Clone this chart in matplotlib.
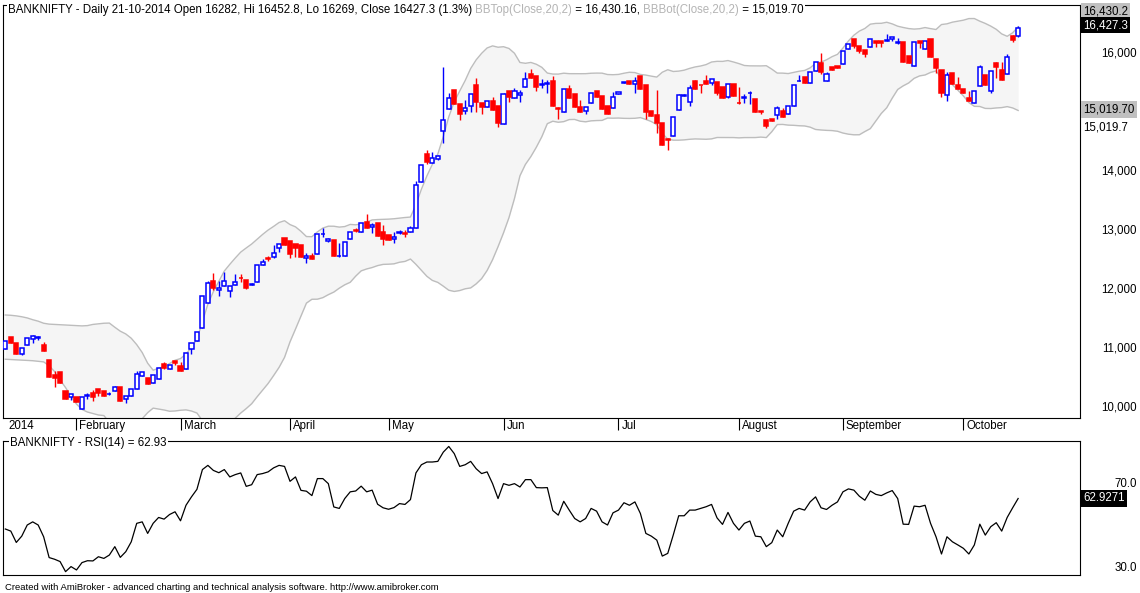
import numpy as np
import pandas as pd
import matplotlib
matplotlib.use("Agg")
import matplotlib.pyplot as plt
import matplotlib.transforms as mtrans

plt.rcParams['font.family'] = ['Liberation Sans', 'DejaVu Sans']

# daily BANKNIFTY bars, mid Jan 2014 .. 21 Oct 2014
opens = [10985, 11190, 11080, 10895, 11045, 11150, 11170, 11050, 10800, 10540,
         10600, 10275, 10175, 10175, 9960, 10195, 10230, 10300, 10270, 10215,
         10275, 10335, 10140, 10185, 10300, 10525, 10495, 10410, 10475, 10730,
         10640, 10780, 10695, 10640, 10980, 11125, 11345, 11770, 12135, 11990,
         12055, 11970, 12070, 12190, 12155, 12075, 12125, 12405, 12525, 12550,
         12690, 12860, 12820, 12760, 12745, 12520, 12560, 12590, 12925, 12820,
         12830, 12555, 12560, 12850, 12995, 12960, 13140, 13045, 13125, 12960,
         12915, 12840, 12955, 12950, 12970, 13030, 13810, 14290, 14130, 14200,
         14685, 15050, 15375, 15130, 15025, 15100, 15460, 15160, 15080, 15190,
         15100, 14790, 15355, 15230, 15285, 15420, 15645, 15610, 15465, 15480,
         15525, 15070, 14995, 15390, 15305, 15090, 15025, 15145, 15350, 15275,
         15105, 15065, 15300, 15490, 15525, 15470, 15610, 15460, 15015, 14950,
         14820, 14535, 14600, 15035, 15280, 15175, 15525, 15465, 15525, 15485,
         15510, 15430, 15260, 15475, 15155, 15240, 15315, 15220, 15015, 14860,
         14890, 14950, 15025, 14960, 15105, 15520, 15600, 15485, 15700, 15835,
         15530, 15755, 15785, 15810, 16065, 16240, 16120, 16050, 16095, 16205,
         16200, 16205, 16230, 16170, 16195, 15950, 15785, 16210, 16065, 16230,
         15895, 15710, 15290, 15655, 15460, 15390, 15245, 15145, 15445, 15625,
         15360, 15825, 15710, 15640, 16295, 16282]
highs = [11120, 11190, 11080, 10995, 11165, 11225, 11200, 11100, 10800, 10615,
         10600, 10275, 10220, 10175, 10165, 10235, 10290, 10300, 10270, 10250,
         10360, 10335, 10185, 10300, 10610, 10590, 10495, 10540, 10655, 10760,
         10710, 10780, 10765, 10920, 11090, 11265, 11880, 12140, 12275, 12140,
         12295, 12050, 12255, 12255, 12155, 12100, 12405, 12505, 12560, 12745,
         12765, 12860, 12820, 12760, 12745, 12605, 12605, 12925, 13030, 12870,
         12830, 12775, 12790, 12970, 13030, 13125, 13270, 13120, 13125, 13085,
         12915, 12970, 12995, 12995, 13060, 13830, 14100, 14355, 14315, 14280,
         15770, 15320, 15375, 15130, 15205, 15305, 15580, 15160, 15185, 15260,
         15100, 15320, 15355, 15415, 15375, 15675, 15730, 15610, 15560, 15535,
         15615, 15090, 15390, 15460, 15305, 15205, 15080, 15325, 15350, 15275,
         15105, 15335, 15335, 15505, 15525, 15600, 15610, 15460, 15015, 15375,
         14820, 14555, 14910, 15300, 15300, 15460, 15550, 15465, 15625, 15555,
         15510, 15430, 15470, 15475, 15430, 15305, 15350, 15220, 15015, 14860,
         14890, 15100, 15060, 15100, 15460, 15625, 15600, 15685, 15855, 15995,
         15670, 15755, 15785, 16035, 16155, 16240, 16120, 16050, 16230, 16205,
         16200, 16320, 16275, 16255, 16195, 15950, 16180, 16210, 16210, 16245,
         15895, 15710, 15685, 15655, 15595, 15390, 15350, 15355, 15795, 15625,
         15695, 15855, 15855, 15985, 16310, 16452.8]
lows = [10985, 11080, 10895, 10880, 11045, 11090, 11130, 10955, 10515, 10335,
        10410, 10130, 10120, 10080, 9960, 10135, 10100, 10180, 10190, 10200,
        10275, 10105, 10075, 10185, 10300, 10525, 10395, 10410, 10475, 10640,
        10640, 10710, 10615, 10640, 10895, 11125, 11345, 11770, 11985, 11880,
        12055, 11870, 12070, 12125, 11995, 12060, 12125, 12405, 12480, 12520,
        12635, 12745, 12520, 12550, 12550, 12435, 12505, 12590, 12885, 12790,
        12565, 12535, 12560, 12850, 12960, 12960, 13030, 12950, 12905, 12745,
        12830, 12785, 12930, 12885, 12970, 13030, 13810, 14120, 14130, 14190,
        14480, 15050, 15130, 14865, 14960, 14995, 14995, 14960, 15080, 15035,
        14740, 14790, 15175, 15230, 15170, 15420, 15580, 15360, 15400, 15320,
        15105, 14880, 14995, 15230, 15080, 15005, 14960, 15145, 15260, 15050,
        14975, 15065, 15300, 15490, 15470, 15325, 15385, 14890, 14935, 14640,
        14440, 14355, 14600, 15035, 15280, 15100, 15390, 15325, 15470, 15455,
        15290, 15230, 15230, 15270, 15130, 15160, 15130, 15005, 14975, 14730,
        14855, 14880, 14920, 14960, 15105, 15520, 15485, 15485, 15700, 15640,
        15530, 15720, 15750, 15810, 16065, 16080, 16000, 15925, 16095, 16100,
        16110, 16200, 16200, 16160, 15855, 15835, 15785, 16085, 16065, 15925,
        15655, 15250, 15190, 15475, 15390, 15315, 15190, 15145, 15445, 15460,
        15320, 15580, 15545, 15640, 16185, 16269]
closes = [11120, 11080, 10895, 10995, 11165, 11200, 11180, 10955, 10515, 10500,
          10410, 10130, 10220, 10080, 10165, 10210, 10175, 10230, 10190, 10225,
          10335, 10105, 10185, 10300, 10560, 10590, 10395, 10540, 10655, 10655,
          10710, 10740, 10615, 10920, 11090, 11265, 11880, 12095, 12025, 12020,
          12135, 12050, 12125, 12180, 12010, 12085, 12405, 12465, 12515, 12605,
          12765, 12745, 12590, 12700, 12550, 12560, 12505, 12925, 12940, 12840,
          12565, 12565, 12790, 12970, 12985, 13125, 13030, 13085, 12905, 12850,
          12830, 12875, 12965, 12940, 13030, 13765, 14100, 14160, 14215, 14255,
          14865, 15235, 15130, 14960, 15065, 15305, 15175, 15090, 15185, 15035,
          14810, 15305, 15260, 15355, 15320, 15560, 15580, 15430, 15475, 15495,
          15105, 15055, 15390, 15230, 15080, 15005, 15080, 15325, 15260, 15050,
          14975, 15250, 15335, 15505, 15470, 15530, 15385, 15005, 14935, 14810,
          14440, 14520, 14910, 15290, 15295, 15405, 15390, 15450, 15470, 15555,
          15325, 15230, 15470, 15270, 15145, 15255, 15330, 15005, 15000, 14765,
          14855, 15065, 14920, 15100, 15460, 15530, 15485, 15685, 15855, 15675,
          15645, 15720, 15750, 16035, 16155, 16125, 16040, 15985, 16230, 16165,
          16170, 16215, 16265, 16180, 15855, 15835, 16180, 16165, 16210, 15925,
          15750, 15315, 15625, 15475, 15390, 15315, 15190, 15355, 15755, 15460,
          15695, 15770, 15545, 15940, 16225, 16427.3]

bb_top_head = [11560, 11555, 11545, 11530, 11510, 11480, 11455, 11420, 11405, 11400,
               11395, 11390, 11385, 11380, 11375, 11380, 11400, 11410, 11420]
bb_bot_head = [10810, 10805, 10800, 10795, 10790, 10785, 10775, 10765, 10700, 10600,
               10460, 10330, 10180, 10050, 9960, 9915, 9890, 9865, 9855]

rsi = [48.4, 47.4, 42.0, 45.0, 50.3, 51.8, 50.3, 44.7, 34.8, 34.0,
       32.9, 28.1, 30.5, 28.9, 32.4, 33.3, 33.2, 35.2, 34.4, 36.0,
       40.0, 34.9, 37.6, 42.3, 51.1, 51.8, 46.3, 51.1, 53.9, 53.1,
       55.3, 56.6, 52.3, 59.7, 63.7, 67.3, 76.7, 78.7, 76.3, 75.2,
       76.7, 73.2, 74.3, 75.1, 68.7, 69.5, 74.3, 74.8, 75.6, 77.5,
       78.7, 78.2, 71.1, 73.2, 66.8, 66.4, 64.3, 72.4, 72.4, 70.0,
       58.9, 58.2, 62.9, 66.1, 66.5, 68.8, 66.1, 66.9, 60.2, 58.5,
       57.8, 58.6, 60.5, 60.1, 62.4, 75.1, 79.0, 80.3, 80.3, 80.6,
       85.0, 87.7, 84.3, 78.2, 79.0, 80.6, 77.1, 74.8, 75.6, 70.0,
       62.9, 70.0, 69.2, 70.0, 68.4, 71.9, 71.9, 68.1, 68.0, 68.1,
       57.2, 55.0, 61.6, 57.4, 53.4, 51.8, 53.4, 58.2, 56.9, 51.8,
       50.3, 56.1, 57.4, 60.9, 59.7, 61.3, 55.8, 46.3, 45.0, 43.1,
       35.5, 36.8, 45.5, 54.7, 54.7, 57.4, 57.4, 58.2, 59.0, 60.1,
       53.7, 50.6, 56.3, 51.1, 47.9, 51.1, 52.2, 45.0, 44.7, 40.0,
       41.9, 47.9, 44.7, 51.1, 56.9, 58.2, 57.4, 61.3, 63.7, 58.5,
       57.7, 59.7, 61.3, 66.1, 67.5, 66.9, 64.0, 62.1, 66.5, 64.9,
       64.3, 65.6, 66.7, 62.9, 50.7, 50.6, 59.3, 59.0, 59.7, 51.1,
       44.7, 36.5, 44.7, 42.3, 40.8, 39.2, 36.5, 40.8, 50.7, 45.5,
       49.5, 51.4, 47.4, 53.9, 58.5, 62.93]

month_names = ['February', 'March', 'April', 'May', 'Jun', 'Jul',
               'August', 'September', 'October']
month_bars = [13, 32, 52, 70, 91, 112, 134, 153, 175]
# 15,000 is hidden behind the BBBot value box in the original
price_ticks = [10000, 11000, 12000, 13000, 14000, 16000]

W, H = 1140, 593
fig = plt.figure(figsize=(W / 100, H / 100), dpi=100)


def rect(x0, y0, x1, y1):
    return [x0 / W, 1 - y1 / H, (x1 - x0) / W, (y1 - y0) / H]


L, R = 3.3, 1080
ax = fig.add_axes(rect(L, 5, R, 418))
ax2 = fig.add_axes(rect(L, 441, R, 575))
xl = (-0.37, 196.3)
FS = 8.3


def axx(px):
    return (px - L) / (R - L)


o = np.array(opens, float)
h = np.array(highs, float)
lo = np.array(lows, float)
c = np.array(closes, float)
idx = np.arange(len(c))
up = c >= o

# Bollinger bands
s = pd.Series(c)
mid = s.rolling(20).mean()
sd = s.rolling(20).std(ddof=0)
top = (mid + 2 * sd).to_numpy()
bot = (mid - 2 * sd).to_numpy()
top[:19] = bb_top_head
bot[:19] = bb_bot_head
ax.fill_between(idx, bot, top, color='#f5f5f5', lw=0, zorder=0)
ax.plot(idx, top, color='#bdbdbd', lw=1.0, zorder=1)
ax.plot(idx, bot, color='#bdbdbd', lw=1.0, zorder=1)

# candles
cols = np.where(up, '#0000ff', '#ff0000')
ax.vlines(idx, lo, h, colors=cols, lw=1.0, zorder=2)
bb = np.minimum(o, c)
bh = np.abs(c - o)
ax.bar(idx[up], bh[up], 0.75, bottom=bb[up], facecolor='white',
       edgecolor='#0000ff', lw=1.1, zorder=3)
ax.bar(idx[~up], bh[~up], 0.75, bottom=bb[~up], facecolor='#ff0000',
       edgecolor='#ff0000', lw=1.1, zorder=3)

ax.set_xlim(*xl)
ax.set_ylim(9814, 16814)
ax.set_yticks([])
ax.set_xticks(month_bars)
ax.set_xticklabels([])
ax.tick_params(axis='x', direction='out', length=8.6, width=0.8, color='black')
for sp in ax.spines.values():
    sp.set_linewidth(0.8)

lab_tr = mtrans.offset_copy(ax.get_xaxis_transform(), fig, x=3, y=-8, units='dots')
for name, b in zip(month_names, month_bars):
    ax.text(b, 0, name, transform=lab_tr, ha='left', va='center', fontsize=FS)
fig.text(8 / W, 1 - 426 / H, '2014', ha='left', va='center', fontsize=FS)

ytr = ax.get_yaxis_transform()
for p in price_ticks:
    ax.text(axx(1137), p, f'{p:,}', transform=ytr, ha='right', va='center',
            fontsize=FS, clip_on=False)

# value labels on the right edge
fig.text(1083 / W, 1 - 11.5 / H, '16,430.2', ha='left', va='center', fontsize=FS,
         bbox=dict(boxstyle='square,pad=0.2', fc='#c0c0c0', ec='none'))
fig.text(1083 / W, 1 - 25 / H, f'{closes[-1]:,.1f}', ha='left', va='center',
         fontsize=FS, color='white',
         bbox=dict(boxstyle='square,pad=0.2', fc='black', ec='none'))
fig.text(1083 / W, 1 - 109.5 / H, '15,019.70', ha='left', va='center', fontsize=FS,
         bbox=dict(boxstyle='square,pad=0.2', fc='#c0c0c0', ec='none'))
fig.text(1083 / W, 1 - 127 / H, '15,019.7', ha='left', va='center', fontsize=FS)

# RSI panel
ax2.plot(idx, rsi, color='black', lw=0.9)
ax2.set_xlim(*xl)
ax2.set_ylim(26.5, 90.3)
ax2.set_xticks([])
ax2.set_yticks([])
for sp in ax2.spines.values():
    sp.set_linewidth(0.8)
ytr2 = ax2.get_yaxis_transform()
for v in [70, 30]:
    ax2.text(axx(1137), v, f'{v:.1f}', transform=ytr2, ha='right', va='center',
             fontsize=FS, clip_on=False)
ax2.text(axx(1083), rsi[-1], '62.9271', transform=ytr2, ha='left', va='center',
         fontsize=FS, color='white', clip_on=False,
         bbox=dict(boxstyle='square,pad=0.2', fc='black', ec='none'))

# titles drawn over the top frame lines
rend = fig.canvas.get_renderer()


def chain(x, y, parts, size):
    for txt, col in parts:
        t = fig.text(x / W, 1 - y / H, txt, color=col, fontsize=size, ha='left',
                     va='center', bbox=dict(boxstyle='square,pad=0.1', fc='white', ec='none'))
        x = t.get_window_extent(rend).x1


chain(8, 10, [("BANKNIFTY - Daily 21-10-2014 Open 16282, Hi 16452.8, Lo 16269, "
               "Close 16427.3 (1.3%) ", 'black'),
              ("BBTop(Close,20,2)", '#b4b4b4'),
              (" = 16,430.16, ", 'black'),
              ("BBBot(Close,20,2)", '#b4b4b4'),
              (" = 15,019.70", 'black')], FS)
chain(10, 443, [("BANKNIFTY - RSI(14) = 62.93", 'black')], FS)

fig.text(5 / W, 1 - 587 / H,
         'Created with AmiBroker - advanced charting and technical analysis software. '
         'http://www.amibroker.com', ha='left', va='center', fontsize=6.8)

fig.savefig('out.png', dpi=100)
